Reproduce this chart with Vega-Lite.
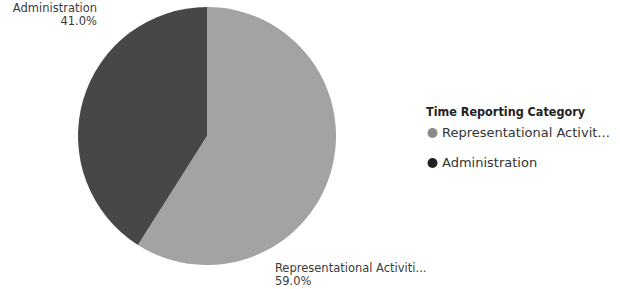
{
  "$schema": "https://vega.github.io/schema/vega-lite/v6.json",
  "width": 414,
  "height": 272,
  "autosize": "none",
  "padding": {"left": 0, "top": 0, "right": 206, "bottom": 17},
  "background": "white",
  "data": {
    "values": [
      {"category": "Representational Activities", "value": 59.0, "label": "Representational Activiti...\n59.0%"},
      {"category": "Administration", "value": 41.0, "label": "Administration\n41.0%"}
    ]
  },
  "encoding": {
    "theta": {"field": "value", "type": "quantitative", "stack": true},
    "order": {"field": "value", "type": "quantitative", "sort": "descending"}
  },
  "layer": [
    {
      "mark": {"type": "arc", "outerRadius": 129, "stroke": null},
      "encoding": {
        "color": {
          "field": "category",
          "type": "nominal",
          "sort": ["Representational Activities", "Administration"],
          "scale": {"domain": ["Representational Activities", "Administration"], "range": ["#a3a3a3", "#474747"]},
          "legend": null
        }
      }
    },
    {
      "mark": {"type": "arc", "outerRadius": 129, "stroke": null, "opacity": 0},
      "encoding": {
        "fill": {
          "field": "category",
          "type": "nominal",
          "sort": ["Representational Activities", "Administration"],
          "scale": {"domain": ["Representational Activities", "Administration"], "range": ["#8a8a8a", "#222222"]},
          "legend": {
            "title": "Time Reporting Category",
            "orient": "none",
            "legendX": 426,
            "legendY": 106,
            "symbolType": "circle",
            "symbolSize": 100,
            "symbolStrokeWidth": 0,
            "symbolOpacity": 1,
            "rowPadding": 16,
            "titlePadding": 8,
            "titleFont": "DejaVu Sans Condensed",
            "titleFontSize": 12.5,
            "titleFontWeight": "bold",
            "titleColor": "#222222",
            "labelFont": "DejaVu Sans",
            "labelFontSize": 13,
            "labelColor": "#333333",
            "labelLimit": 300,
            "labelOffset": 3,
            "labelExpr": "datum.label == 'Representational Activities' ? 'Representational Activit...' : datum.label"
          }
        }
      }
    },
    {
      "mark": {"type": "text", "radius": 168, "thetaOffset": 0.574, "align": "right", "baseline": "middle", "lineBreak": "\n", "lineHeight": 13, "font": "DejaVu Sans", "fontSize": 11.5, "color": "#3a3a3a"},
      "encoding": {
        "text": {"condition": {"test": "datum.category === 'Administration'", "field": "label"}, "value": ""}
      }
    },
    {
      "mark": {"type": "text", "radius": 149, "thetaOffset": 0.815, "align": "left", "baseline": "middle", "lineBreak": "\n", "lineHeight": 13, "font": "DejaVu Sans", "fontSize": 11.5, "color": "#3a3a3a"},
      "encoding": {
        "text": {"condition": {"test": "datum.category === 'Representational Activities'", "field": "label"}, "value": ""}
      }
    }
  ],
  "resolve": {"scale": {"color": "independent", "fill": "independent"}},
  "config": {"view": {"stroke": null}}
}
